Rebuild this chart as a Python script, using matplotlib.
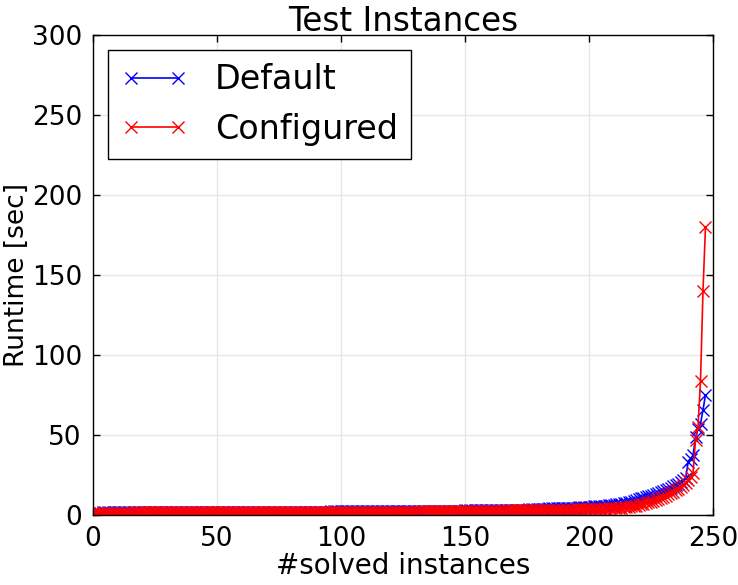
import numpy as np
import matplotlib
matplotlib.use("Agg")
import matplotlib.pyplot as plt

# sorted runtimes (sec) of the solved test instances
default_rt = [
    1.4, 1.5, 1.5, 1.5, 1.6, 1.6, 1.6, 1.6, 1.6, 1.7,
    1.7, 1.7, 1.7, 1.7, 1.7, 1.7, 1.7, 1.8, 1.8, 1.8,
    1.8, 1.8, 1.8, 1.8, 1.8, 1.8, 1.8, 1.8, 1.8, 1.8,
    1.8, 1.8, 1.8, 1.9, 1.9, 1.9, 1.9, 1.9, 1.9, 1.9,
    1.9, 1.9, 1.9, 1.9, 1.9, 1.9, 1.9, 1.9, 1.9, 1.9,
    1.9, 1.9, 1.9, 1.9, 2.0, 2.0, 2.0, 2.0, 2.0, 2.0,
    2.0, 2.0, 2.0, 2.0, 2.0, 2.0, 2.0, 2.0, 2.0, 2.0,
    2.0, 2.0, 2.0, 2.0, 2.0, 2.0, 2.1, 2.1, 2.1, 2.1,
    2.1, 2.1, 2.1, 2.1, 2.1, 2.1, 2.1, 2.1, 2.1, 2.1,
    2.1, 2.1, 2.1, 2.1, 2.1, 2.1, 2.2, 2.2, 2.2, 2.2,
    2.2, 2.2, 2.2, 2.2, 2.2, 2.2, 2.2, 2.2, 2.2, 2.2,
    2.2, 2.2, 2.2, 2.3, 2.3, 2.3, 2.3, 2.3, 2.3, 2.3,
    2.3, 2.3, 2.3, 2.3, 2.3, 2.3, 2.3, 2.3, 2.3, 2.3,
    2.3, 2.3, 2.4, 2.4, 2.4, 2.4, 2.4, 2.4, 2.4, 2.4,
    2.4, 2.4, 2.5, 2.5, 2.5, 2.5, 2.5, 2.5, 2.6, 2.6,
    2.8, 2.8, 2.8, 2.9, 2.9, 2.9, 2.9, 3.0, 3.0, 3.0,
    3.0, 3.0, 3.1, 3.1, 3.1, 3.1, 3.2, 3.2, 3.2, 3.2,
    3.3, 3.3, 3.3, 3.4, 3.4, 3.4, 3.5, 3.5, 3.6, 3.8,
    3.9, 3.9, 4.0, 4.0, 4.1, 4.1, 4.2, 4.2, 4.3, 4.3,
    4.4, 4.4, 4.5, 4.5, 4.6, 4.6, 4.7, 4.7, 4.8, 4.8,
    5.1, 5.2, 5.3, 5.4, 5.5, 5.6, 5.8, 5.9, 6.1, 6.3,
    6.5, 6.7, 6.9, 7.1, 7.3, 7.6, 7.9, 8.3, 8.7, 9.2,
    9.8, 10.3, 10.8, 11.2, 11.6, 12.1, 12.6, 13.1, 13.7, 14.3,
    15.0, 15.6, 16.3, 17.0, 17.8, 18.6, 19.5, 20.5, 21.6, 22.8,
    33.0, 35.0, 37.5, 48.5, 53.5, 57.0, 65.6, 75.0,
]
configured_rt = [
    1.2, 1.3, 1.3, 1.3, 1.4, 1.4, 1.4, 1.4, 1.4, 1.5,
    1.5, 1.5, 1.5, 1.5, 1.5, 1.5, 1.5, 1.6, 1.6, 1.6,
    1.6, 1.6, 1.6, 1.6, 1.6, 1.6, 1.6, 1.6, 1.6, 1.6,
    1.6, 1.6, 1.6, 1.7, 1.7, 1.7, 1.7, 1.7, 1.7, 1.7,
    1.7, 1.7, 1.7, 1.7, 1.7, 1.7, 1.7, 1.7, 1.7, 1.7,
    1.7, 1.7, 1.7, 1.7, 1.8, 1.8, 1.8, 1.8, 1.8, 1.8,
    1.8, 1.8, 1.8, 1.8, 1.8, 1.8, 1.8, 1.8, 1.8, 1.8,
    1.8, 1.8, 1.8, 1.8, 1.8, 1.8, 1.9, 1.9, 1.9, 1.9,
    1.9, 1.9, 1.9, 1.9, 1.9, 1.9, 1.9, 1.9, 1.9, 1.9,
    1.9, 1.9, 1.9, 1.9, 1.9, 1.9, 2.0, 2.0, 2.0, 2.0,
    2.0, 2.0, 2.0, 2.0, 2.0, 2.0, 2.0, 2.0, 2.0, 2.0,
    2.0, 2.0, 2.0, 2.1, 2.1, 2.1, 2.1, 2.1, 2.1, 2.1,
    2.1, 2.1, 2.1, 2.1, 2.1, 2.1, 2.1, 2.1, 2.1, 2.1,
    2.1, 2.1, 2.2, 2.2, 2.2, 2.2, 2.2, 2.2, 2.2, 2.2,
    2.2, 2.2, 2.3, 2.3, 2.3, 2.3, 2.3, 2.3, 2.3, 2.3,
    2.5, 2.5, 2.5, 2.5, 2.5, 2.6, 2.6, 2.6, 2.6, 2.6,
    2.6, 2.7, 2.7, 2.7, 2.7, 2.7, 2.7, 2.8, 2.8, 2.8,
    2.8, 2.8, 2.8, 2.9, 2.9, 2.9, 2.9, 3.0, 3.0, 3.1,
    3.1, 3.1, 3.1, 3.2, 3.2, 3.2, 3.2, 3.3, 3.3, 3.3,
    3.3, 3.4, 3.4, 3.4, 3.4, 3.5, 3.5, 3.5, 3.6, 3.6,
    3.7, 3.7, 3.8, 3.8, 3.9, 3.9, 4.0, 4.0, 4.1, 4.2,
    4.3, 4.4, 4.5, 4.6, 4.7, 4.9, 5.1, 5.3, 5.6, 5.9,
    6.2, 6.6, 7.0, 7.4, 7.9, 8.4, 8.9, 9.4, 10.0, 10.7,
    11.4, 12.1, 12.9, 13.7, 14.6, 15.5, 16.5, 17.6, 18.8, 20.2,
    22.0, 24.0, 26.5, 47.0, 55.0, 84.0, 140.0, 180.0,
]

plt.rcParams['font.family'] = ['DejaVu Sans']

fig = plt.figure(figsize=(7.38, 5.85), dpi=100)
ax = fig.add_axes([0.126, 0.1197, 0.840, 0.8205])

ax.plot(np.arange(len(default_rt)), default_rt, color='b', marker='x',
        lw=1.2, ms=8, mew=1.0, label='Default')
ax.plot(np.arange(len(configured_rt)), configured_rt, color='r', marker='x',
        lw=1.2, ms=8, mew=1.0, label='Configured')

ax.set_xlim(0, 250)
ax.set_ylim(0, 300)
ax.set_xticks([0, 50, 100, 150, 200, 250])
ax.set_yticks([0, 50, 100, 150, 200, 250, 300])
ax.grid(True, color='#e6e6e6', linestyle='-', linewidth=1.0)
ax.set_axisbelow(True)
ax.tick_params(direction='in', top=True, right=True, length=5, width=1,
               labelsize=19, pad=8)
for s in ax.spines.values():
    s.set_linewidth(1.0)

ax.set_title('Test Instances', fontsize=23.5, pad=3)
ax.set_xlabel('#solved instances', fontsize=20, labelpad=0)
ax.set_ylabel('Runtime [sec]', fontsize=19)
ax.yaxis.set_label_coords(-0.101, 0.5)

leg = ax.legend(loc='upper left', fontsize=24, numpoints=2, handlelength=2.0,
                handletextpad=0.8, borderaxespad=0.45, fancybox=False,
                framealpha=1.0, labelspacing=0.5, borderpad=0.4)
leg.get_frame().set_edgecolor('black')
leg.get_frame().set_linewidth(1.0)

fig.savefig('out.png', dpi=100, facecolor='white')
